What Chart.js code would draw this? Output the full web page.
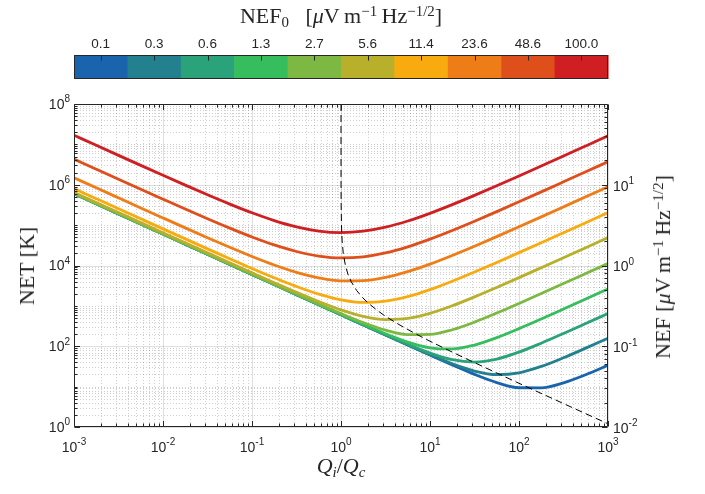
<!DOCTYPE html>
<html><head><meta charset="utf-8">
<script src="https://cdn.jsdelivr.net/npm/chart.js@4.4.1/dist/chart.umd.min.js"></script>
<style>
html,body{margin:0;padding:0;background:#fff;}
#wrap{position:relative;width:705px;height:494px;overflow:hidden;background:#fff;}
#c{position:absolute;left:0;top:0;}
.ttl{position:absolute;transform:translate(-50%,-50%);font-family:"Liberation Serif","Times New Roman",serif;font-size:22px;line-height:1;white-space:nowrap;color:#262626;}
.rot{transform:translate(-50%,-50%) rotate(-90deg);}
.sup{font-size:0.68em;position:relative;top:-0.5em;}
.sub{font-size:0.68em;position:relative;top:0.3em;}
</style></head>
<body>
<div id="wrap">
<canvas id="c" width="705" height="494"></canvas>
<div class="ttl" style="left:341px;top:16px">NEF<span class="sub">0</span>&nbsp;&nbsp;&nbsp;[<i>μ</i>V&thinsp;m<span class="sup">−1</span>&thinsp;Hz<span class="sup">−1/2</span>]</div>
<div class="ttl rot" style="left:27px;top:266px">NET [K]</div>
<div class="ttl rot" style="left:663px;top:267px">NEF [<i>μ</i>V&thinsp;m<span class="sup">−1</span>&thinsp;Hz<span class="sup">−1/2</span>]</div>
<div class="ttl" style="left:341px;top:466px"><i>Q</i><span class="sub"><i>i</i></span>/<i>Q</i><span class="sub"><i>c</i></span></div>
</div>
<script>
// ---- data ----
const xQ = [0.001,0.001778,0.003162,0.005623,0.01,0.01778,0.03162,0.05623,0.1,0.1778,0.3162,0.5623,1,1.778,3.162,5.623,10,17.78,31.62,56.23,100,177.8,316.2,562.3,1000];
const nef0Labels = ['0.1','0.3','0.6','1.3','2.7','5.6','11.4','23.6','48.6','100.0'];
const net01  = [6.000e5,3.374e5,1.897e5,1.067e5,6.000e4,3.374e4,1.897e4,1.067e4,6000,3374,1897,1067,600.1,337.5,189.9,107.0,60.4,34.4,20.1,12.6,9.37,9.3,12.4,19.7,33.7];
const net03  = [6.002e5,3.375e5,1.898e5,1.067e5,6.002e4,3.375e4,1.898e4,1.067e4,6002,3375,1898,1068,600.6,338.1,190.6,107.9,61.9,36.9,24.3,19.8,22.0,31.6,51.9,89.7,157.9];
const net06  = [6.006e5,3.378e5,1.899e5,1.068e5,6.007e4,3.378e4,1.899e4,1.068e4,6008,3379,1900,1070,602.6,340.2,193.2,111.7,67.8,46.5,40.6,48.2,71.7,119.2,206.8,364.5,645.9];
const net13  = [6.026e5,3.389e5,1.905e5,1.072e5,6.027e4,3.389e4,1.906e4,1.072e4,6032,3394,1911,1078,610.5,348.8,204.1,127.1,91.7,85.7,107.2,163.3,273.3,474.5,835.6,1479,2626];
const net27  = [6.112e5,3.437e5,1.933e5,1.087e5,6.114e4,3.439e4,1.935e4,1.089e4,6136,3461,1958,1116,645,386,251,194,196,256,396,663,1149,2017,3566,6321,1.122e4];
const net56  = [6.491e5,3.651e5,2.053e5,1.155e5,6.500e4,3.659e4,2.062e4,1.164e4,6593,3756,2165,1280,796,550,458,489,653,1006,1668,2865,5004,8813,1.559e4,2.765e4,4.910e4];
const net114 = [8.044e5,4.525e5,2.546e5,1.434e5,8.081e4,4.562e4,2.584e4,1.472e4,8468,4965,3015,1952,1416,1222,1308,1698,2528,4081,6884,1.189e4,2.082e4,3.668e4,6.492e4,1.151e5,2.044e5];
const net236 = [1.492e6,8.396e5,4.729e5,2.667e5,1.508e5,8.558e4,4.892e4,2.833e4,1.677e4,1.032e4,6772,4930,4160,4200,5065,7049,1.083e4,1.769e4,2.997e4,5.185e4,9.080e4,1.600e5,2.832e5,5.022e5,8.918e5];
const net486 = [4.317e6,2.431e6,1.370e6,7.738e5,4.385e5,2.498e5,1.438e5,8.428e4,5.089e4,3.231e4,2.222e4,1.717e4,1.544e4,1.644e4,2.051e4,2.905e4,4.495e4,7.364e4,1.249e5,2.161e5,3.785e5,6.671e5,1.181e6,2.094e6,3.717e6];
const net1000= [1.683e7,9.479e6,5.345e6,3.019e6,1.713e6,9.774e5,5.641e5,3.321e5,2.020e5,1.297e5,9.064e4,7.138e4,6.54e4,7.065e4,8.893e4,1.265e5,1.961e5,3.214e5,5.451e5,9.437e5,1.653e6,2.913e6,5.155e6,9.142e6,1.623e7];
const optX = [1.000012,1.00012,1.0012,1.004,1.012,1.03,1.06,1.12,1.2,1.3,1.5,1.75,2,2.5,3,4,5,7,10,20,50,100,300,1000];
const optNET = [1e8,1e7,1e6,3e5,1e5,4e4,2e4,1e4,6000,4000,2400,1600,1200,800,600,400,300,200,133,63.2,24.5,12.1,4.01,1.2];
const xTickExps = [-3,-2,-1,0,1,2,3];
const yTickExps = [0,2,4,6,8];
const y2TickExps = [-2,-1,0,1];

// ---- styles ----
const seriesColors = ['#1964ad','#22808f','#2aa27a','#36be5e','#7cb842','#b8b02b','#f8ab0e','#ee7d18','#df4f1b','#d01f23'];
const seriesData = [net01,net03,net06,net13,net27,net56,net114,net236,net486,net1000];
const TXT = '#262626';

const datasets = seriesData.map((arr,i)=>({
  data: xQ.map((x,j)=>({x:x,y:arr[j]})),
  borderColor: seriesColors[i], borderWidth: 2.8, pointRadius: 0,
  cubicInterpolationMode: 'monotone', fill:false, order: 10 - i
}));
datasets.push({
  data: optX.map((x,j)=>({x:x,y:optNET[j]})),
  borderColor:'#000', borderWidth:1, borderDash:[7,4], pointRadius:0, tension:0, fill:false, order:-1
});

function drawPow(ctx, exp, x, y, align){
  const F1 = '14px "Liberation Sans", Arial, sans-serif', F2 = '10px "Liberation Sans", Arial, sans-serif';
  ctx.font = F1;
  const w10 = ctx.measureText('10').width;
  ctx.font = F2;
  const e = String(exp);
  const we = ctx.measureText(e).width;
  const tot = w10 + we;
  let x0 = align==='center' ? x - tot/2 : (align==='right' ? x - tot : x);
  ctx.textAlign='left'; ctx.textBaseline='middle'; ctx.fillStyle=TXT;
  ctx.font = F1;
  ctx.fillText('10', x0, y);
  ctx.font = F2;
  ctx.fillText(e, x0 + w10, y - 5.5);
}

const decor = {
  id:'decor',
  beforeDatasetsDraw(chart){
    const {ctx, chartArea:a, scales} = chart;
    const sx = scales.x, sy = scales.y;
    ctx.save();
    // minor dotted grid
    ctx.strokeStyle='rgba(38,38,38,0.22)'; ctx.lineWidth=1; ctx.setLineDash([1,2]);
    ctx.beginPath();
    for(let k=-3;k<3;k++) for(let m=2;m<=9;m++){
      const px = Math.round(sx.getPixelForValue(m*Math.pow(10,k)))+0.5;
      ctx.moveTo(px,a.top); ctx.lineTo(px,a.bottom);
    }
    for(let k=0;k<8;k++) for(let m=1;m<=9;m++){
      if(m===1 && k%2===0) continue;
      const py = Math.round(sy.getPixelForValue(m*Math.pow(10,k)))+0.5;
      ctx.moveTo(a.left,py); ctx.lineTo(a.right,py);
    }
    ctx.stroke();
    // major grid
    ctx.setLineDash([]); ctx.strokeStyle='rgba(38,38,38,0.15)';
    ctx.beginPath();
    xTickExps.forEach(e=>{const px=Math.round(sx.getPixelForValue(Math.pow(10,e)))+0.5; ctx.moveTo(px,a.top); ctx.lineTo(px,a.bottom);});
    yTickExps.forEach(e=>{const py=Math.round(sy.getPixelForValue(Math.pow(10,e)))+0.5; ctx.moveTo(a.left,py); ctx.lineTo(a.right,py);});
    ctx.stroke();
    ctx.restore();
  },
  afterDatasetsDraw(chart){
    const {ctx, chartArea:a, scales} = chart;
    const sx = scales.x, sy = scales.y, s2 = scales.y2;
    const L = Math.round(a.left)+0.5, R = Math.round(a.right)-0.5, T = Math.round(a.top)+0.5, B = Math.round(a.bottom)-0.5;
    ctx.save();
    ctx.strokeStyle=TXT; ctx.lineWidth=1; ctx.setLineDash([]);
    ctx.beginPath();
    ctx.rect(L,T,R-L,B-T);
    // x ticks (bottom & top)
    for(let k=-3;k<=3;k++) for(let m=1;m<=9;m++){
      if(k===3 && m>1) break;
      const px = Math.round(sx.getPixelForValue(m*Math.pow(10,k)))+0.5;
      const len = m===1 ? 5.5 : 3;
      ctx.moveTo(px,B); ctx.lineTo(px,B-len);
      ctx.moveTo(px,T); ctx.lineTo(px,T+len);
    }
    // left ticks
    for(let k=0;k<=8;k++) for(let m=1;m<=9;m++){
      if(k===8 && m>1) break;
      const py = Math.round(sy.getPixelForValue(m*Math.pow(10,k)))+0.5;
      const len = (m===1 && k%2===0) ? 5.5 : 3;
      ctx.moveTo(L,py); ctx.lineTo(L+len,py);
    }
    // right ticks (NEF axis)
    for(let k=-2;k<=2;k++) for(let m=1;m<=9;m++){
      if(k===2 && m>1) break;
      const py = Math.round(s2.getPixelForValue(m*Math.pow(10,k)))+0.5;
      const len = m===1 ? 5.5 : 3;
      ctx.moveTo(R,py); ctx.lineTo(R-len,py);
    }
    ctx.stroke();
    // tick labels
    xTickExps.forEach(e=>drawPow(ctx, e, sx.getPixelForValue(Math.pow(10,e)), a.bottom+21, 'center'));
    yTickExps.forEach(e=>drawPow(ctx, e, a.left-4, sy.getPixelForValue(Math.pow(10,e))+1, 'right'));
    y2TickExps.forEach(e=>drawPow(ctx, e, a.right+5, s2.getPixelForValue(Math.pow(10,e))+2, 'left'));
    // colorbar
    const n = nef0Labels.length, cbT = 55, cbB = 79;
    const w = (a.right - a.left)/n;
    for(let i=0;i<n;i++){
      ctx.fillStyle = seriesColors[i];
      ctx.fillRect(a.left + i*w, cbT, w+0.6, cbB-cbT);
    }
    ctx.strokeStyle=TXT; ctx.lineWidth=1;
    ctx.beginPath();
    ctx.rect(L, cbT+0.5, R-L, cbB-cbT-1);
    for(let i=0;i<n;i++){
      const px = Math.round(a.left + (i+0.5)*w)+0.5;
      ctx.moveTo(px, cbT+0.5); ctx.lineTo(px, cbT+5.5);
    }
    ctx.stroke();
    ctx.fillStyle=TXT; ctx.font='13.5px "Liberation Sans", Arial, sans-serif';
    ctx.textAlign='center'; ctx.textBaseline='middle';
    nef0Labels.forEach((t,i)=>ctx.fillText(t, a.left + (i+0.5)*w, 44));
    ctx.restore();
  }
};

new Chart(document.getElementById('c'), {
  type:'line',
  data:{datasets},
  options:{
    responsive:false, animation:false, devicePixelRatio:1,
    layout:{padding:{left:74,right:97,top:104,bottom:67}},
    plugins:{legend:{display:false}, tooltip:{enabled:false}},
    elements:{point:{radius:0}},
    scales:{
      x:{type:'logarithmic', min:1e-3, max:1e3, display:false},
      y:{type:'logarithmic', min:1, max:1e8, display:false},
      y2:{type:'logarithmic', min:0.01, max:100, display:false, position:'right'}
    }
  },
  plugins:[decor]
});
</script>
</body></html>
